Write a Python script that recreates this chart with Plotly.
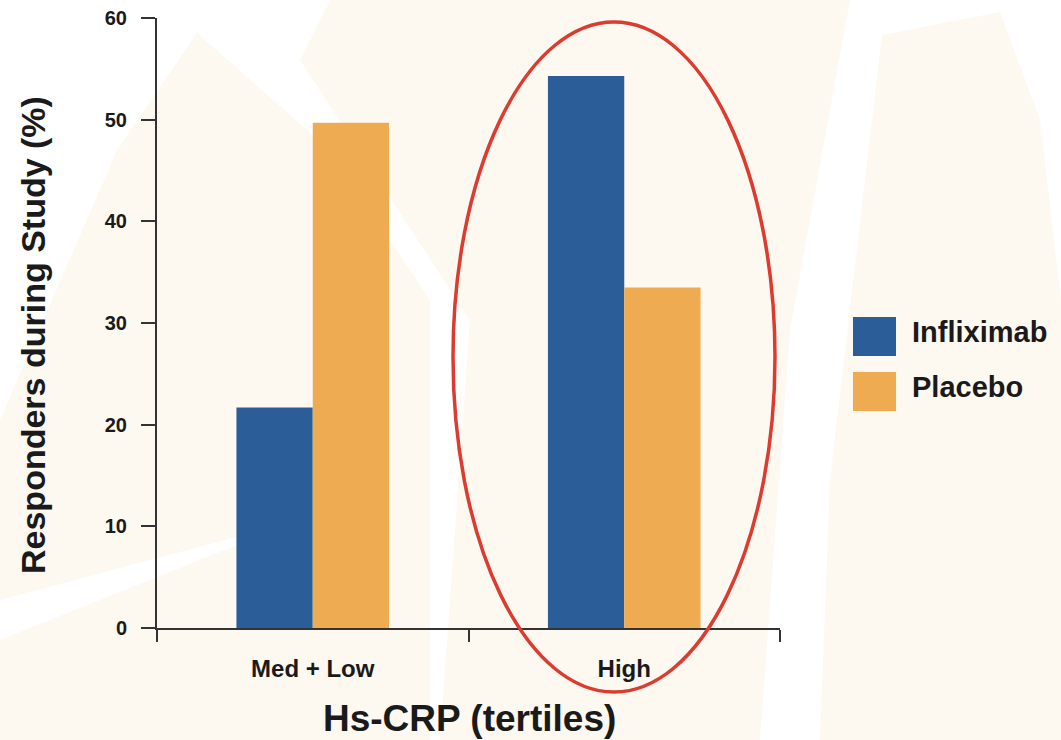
import plotly.graph_objects as go

# Responders by hs-CRP tertile group
categories = ["Med + Low", "High"]
infliximab = [21.7, 54.3]
placebo = [49.7, 33.5]
series_names = ["Infliximab", "Placebo"]
y_ticks = [0, 10, 20, 30, 40, 50, 60]

BLUE = "#2b5e99"
ORANGE = "#eeab52"
RED = "#dc3b2f"
BEIGE = "#fdf8f0"
INK = "#1a1a1a"
FONT = "Liberation Sans, Arial, sans-serif"

W, H = 1061, 740
L, R, T, B = 157, 281, 18, 112


def px(x, y):
    """Pixel position -> paper coordinates."""
    return (x - L) / (W - L - R), (H - B - y) / (H - T - B)


def poly(points):
    parts = []
    for i, (x, y) in enumerate(points):
        u, v = px(x, y)
        parts.append(("M" if i == 0 else "L") + f"{u:.4f},{v:.4f}")
    return " ".join(parts) + " Z"


fig = go.Figure()
fig.add_trace(go.Bar(x=categories, y=infliximab, name=series_names[0],
                     marker=dict(color=BLUE, line=dict(width=0))))
fig.add_trace(go.Bar(x=categories, y=placebo, name=series_names[1],
                     marker=dict(color=ORANGE, line=dict(width=0))))

# faint background watermark shapes
background = [
    [(197, 33), (330, 150), (430, 300), (430, 740), (0, 740), (0, 640), (300, 520), (0, 600), (0, 420), (117, 150)],
    [(690, 0), (850, 0), (790, 330), (760, 740), (440, 740), (470, 320), (300, 60), (330, 0)],
    [(882, 35), (1000, 12), (1040, 120), (1061, 300), (1061, 740), (820, 740), (830, 480)],
]
shapes = []
for pts in background:
    shapes.append(dict(type="path", xref="paper", yref="paper", path=poly(pts),
                       fillcolor=BEIGE, line=dict(width=0), layer="below"))

# highlight ring around the High group
x0, y0 = px(453, 692)
x1, y1 = px(775, 22)
shapes.append(dict(type="circle", xref="paper", yref="paper", x0=x0, y0=y0, x1=x1, y1=y1,
                   line=dict(color=RED, width=3.5), fillcolor="rgba(0,0,0,0)", layer="above"))

# legend swatches and labels
legend_colors = [BLUE, ORANGE]
annotations = []
for i, (name, col) in enumerate(zip(series_names, legend_colors)):
    top = 317 + i * 55
    a0, b0 = px(853, top + 39)
    a1, b1 = px(896, top)
    shapes.append(dict(type="rect", xref="paper", yref="paper", x0=a0, y0=b0, x1=a1, y1=b1,
                       fillcolor=col, line=dict(width=0)))
    tx, ty = px(910, top + 15)
    annotations.append(dict(xref="paper", yref="paper", x=tx, y=ty, text=name,
                            showarrow=False, xanchor="left", yanchor="middle",
                            font=dict(family=FONT, size=29, color=INK, weight="bold")))

# axis titles
tx, ty = px(33, 335)
annotations.append(dict(xref="paper", yref="paper", x=tx, y=ty, text="Responders during Study (%)",
                        textangle=-90, showarrow=False, xanchor="center", yanchor="middle",
                        font=dict(family=FONT, size=34, color=INK, weight="bold")))
tx, ty = px(469, 718)
annotations.append(dict(xref="paper", yref="paper", x=tx, y=ty, text="Hs-CRP (tertiles)",
                        showarrow=False, xanchor="center", yanchor="middle",
                        font=dict(family=FONT, size=37, color=INK, weight="bold")))

fig.update_layout(
    width=W, height=H,
    margin=dict(l=L, r=R, t=T, b=B, autoexpand=False),
    paper_bgcolor="white", plot_bgcolor="rgba(0,0,0,0)",
    barmode="group", bargap=0.51, bargroupgap=0,
    showlegend=False,
    shapes=shapes, annotations=annotations,
    font=dict(family=FONT, color=INK),
)
fig.update_xaxes(
    range=[-0.5, 1.5], showline=True, linecolor="#333333", linewidth=2,
    ticks="outside", tickson="boundaries", ticklen=12, tickwidth=2, tickcolor="#333333",
    showgrid=False, zeroline=False, ticklabelstandoff=18,
    tickfont=dict(family=FONT, size=24, color=INK, weight="bold"),
)
fig.update_yaxes(
    range=[0, 60], tickvals=y_ticks, showline=True, linecolor="#333333", linewidth=2,
    ticks="outside", ticklen=14, tickwidth=2, tickcolor="#333333",
    showgrid=False, zeroline=False, ticklabelstandoff=10,
    tickfont=dict(family=FONT, size=20, color=INK, weight="bold"),
)

fig.write_html("out.html")
